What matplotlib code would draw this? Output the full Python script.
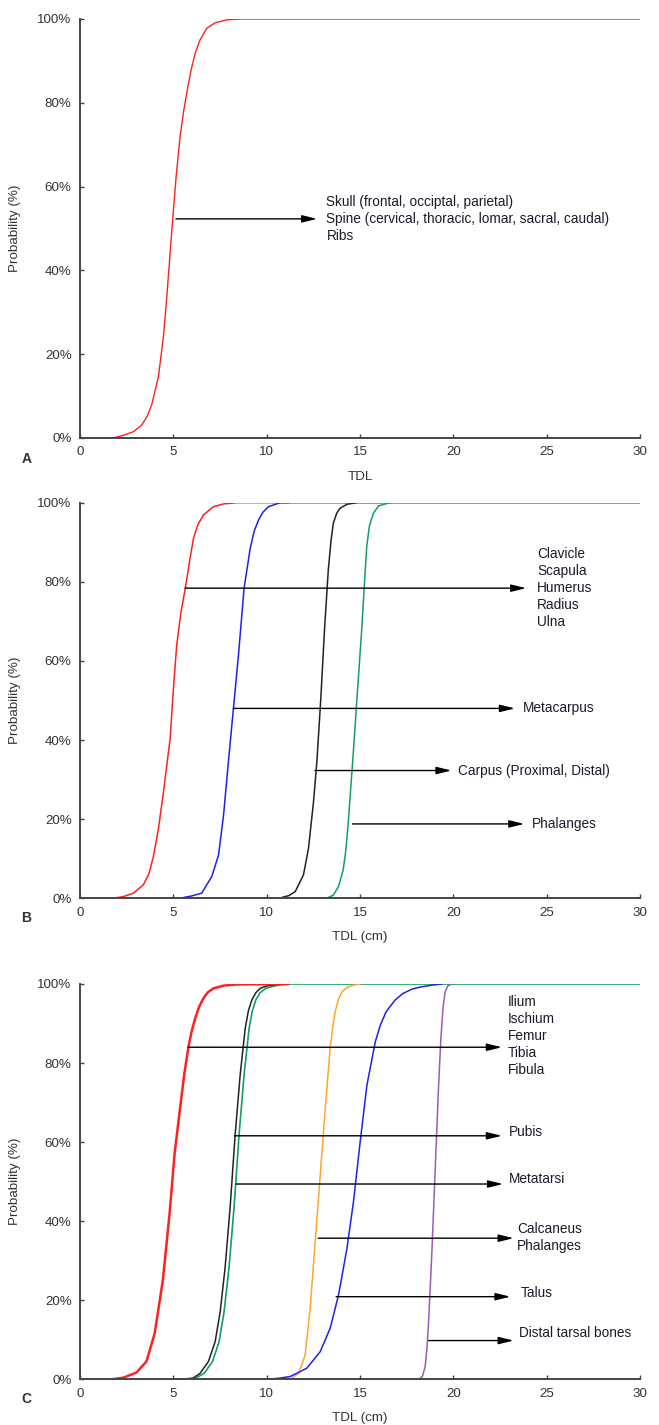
import matplotlib
matplotlib.use("Agg")
import matplotlib.pyplot as plt
from matplotlib.ticker import PercentFormatter

plt.rcParams['font.family'] = ['Liberation Sans', 'DejaVu Sans']

# ---------------- Panel A ----------------
a_red_x = [1.75, 2.3, 2.86, 3.31, 3.6, 3.84, 4.2, 4.47, 4.65, 4.92, 5.15, 5.36, 5.55, 5.75,
           5.95, 6.17, 6.43, 6.79, 7.24, 7.87, 8.6, 30]
a_red_y = [0, 0.6, 1.5, 3.1, 5.2, 7.9, 14.6, 24.2, 33.7, 49.6, 62.4, 71.9, 78.0, 83.1,
           87.8, 91.8, 95.0, 97.8, 99.1, 99.8, 100, 100]

# ---------------- Panel B ----------------
b_red_x = [1.75, 2.3, 2.86, 3.39, 3.7, 3.93, 4.2, 4.46, 4.83, 5.0, 5.18, 5.4, 5.67, 5.88,
           6.08, 6.32, 6.61, 7.15, 7.7, 8.4, 11.2]
b_red_y = [0, 0.4, 1.3, 3.4, 6.3, 10.5, 17.5, 26.5, 40.4, 52.7, 64.0, 72.0, 79.2, 85.5,
           91.0, 94.5, 96.9, 99.0, 99.7, 100, 100]
b_blue_x = [5.54, 5.9, 6.52, 7.06, 7.42, 7.69, 7.95, 8.22, 8.49, 8.79, 9.12, 9.33, 9.56,
            9.8, 10.1, 10.72, 14.8]
b_blue_y = [0.2, 0.5, 1.3, 5.5, 10.9, 21.0, 34.5, 48.0, 61.5, 78.4, 88.5, 92.8, 95.6,
            97.6, 99.0, 100, 100]
b_black_x = [10.81, 11.2, 11.53, 11.97, 12.24, 12.51, 12.69, 12.9, 13.1, 13.3, 13.45,
             13.57, 13.75, 13.93, 14.3, 14.82, 30]
b_black_y = [0.2, 0.7, 1.7, 5.9, 12.6, 24.4, 34.5, 50.5, 68.0, 82.9, 90.5,
             94.8, 97.3, 98.6, 99.6, 100, 100]
b_green_x = [13.21, 13.57, 13.85, 14.1, 14.25, 14.38, 14.64, 14.82, 15.09, 15.25, 15.36,
             15.5, 15.71, 16.0, 16.6]
b_green_y = [0, 0.8, 3.0, 7.2, 12.5, 19.8, 36.7, 49.3, 67.8, 80.5, 88.9,
             94.0, 97.3, 99.2, 100]

# ---------------- Panel C ----------------
c_red_x = [1.69, 2.31, 3.02, 3.56, 4.0, 4.44, 4.8, 5.07, 5.36, 5.58, 5.81, 5.98, 6.17,
           6.38, 6.61, 6.85, 7.15, 7.7, 8.4, 11.2]
c_red_y = [0, 0.4, 1.7, 4.5, 11.6, 25.1, 42.0, 57.2, 68.5, 77.0, 84.1, 88.0, 91.3,
           94.2, 96.4, 97.9, 98.9, 99.6, 99.9, 100]
c_black_x = [5.36, 6.06, 6.43, 6.88, 7.24, 7.51, 7.77, 8.04, 8.31, 8.58, 8.85, 9.02,
             9.21, 9.42, 9.65, 10.0, 10.55, 11.2]
c_black_y = [0, 0.3, 1.5, 4.5, 9.5, 17.1, 28.1, 43.3, 61.8, 77.0, 88.8, 93.2,
             96.0, 97.8, 98.9, 99.5, 99.9, 100]
c_green_x = [5.7, 6.2, 6.65, 7.1, 7.45, 7.72, 7.98, 8.25, 8.52, 8.79, 9.06, 9.23,
             9.42, 9.65, 9.95, 10.5, 11.08, 30]
c_green_y = [0, 0.3, 1.5, 4.5, 9.5, 17.1, 28.1, 43.3, 61.8, 77.0, 88.8, 93.2,
             96.0, 97.8, 98.9, 99.6, 100, 100]
c_orange_x = [11.26, 11.71, 12.06, 12.33, 12.6, 12.87, 13.14, 13.4, 13.55, 13.67, 13.85,
              14.03, 14.3, 14.65, 15.0]
c_orange_y = [0, 1.5, 6.1, 18.0, 34.8, 51.7, 68.6, 83.7, 89.5, 93.0, 96.2,
              98.0, 99.1, 99.7, 100]
c_blue_x = [10.01, 10.7, 11.26, 12.15, 12.87, 13.4, 13.85, 14.3, 14.65, 15.01, 15.37,
            15.82, 16.09, 16.4, 16.89, 17.3, 17.78, 18.3, 18.84, 19.38]
c_blue_y = [0, 0.3, 0.7, 2.8, 7.0, 12.9, 21.3, 33.1, 44.9, 60.1, 74.4,
            85.4, 89.6, 93.0, 96.0, 97.6, 98.7, 99.3, 99.7, 100]
c_purple_x = [18.17, 18.35, 18.49, 18.58, 18.67, 18.84, 19.02, 19.2, 19.33, 19.45,
              19.56, 19.7, 19.91]
c_purple_y = [0, 0.8, 3.2, 7.5, 14.2, 31.0, 52.1, 73.2, 86.0, 94.0,
              98.0, 99.5, 100]

# annotations: (arrow start x, arrow tip x, arrow y, text x, text y)
a_labels = ["Skull (frontal, occiptal, parietal)\nSpine (cervical, thoracic, lomar, sacral, caudal)\nRibs"]
a_arrows = [(5.14, 12.7, 52.3, 13.2, 52.3)]

b_labels = ["Clavicle\nScapula\nHumerus\nRadius\nUlna", "Metacarpus",
            "Carpus (Proximal, Distal)", "Phalanges"]
b_arrows = [(5.63, 23.9, 78.4, 24.5, 78.4),
            (8.21, 23.3, 48.0, 23.7, 48.0),
            (12.59, 19.9, 32.3, 20.25, 32.3),
            (14.6, 23.8, 18.8, 24.2, 18.8)]

c_labels = ["Ilium\nIschium\nFemur\nTibia\nFibula", "Pubis", "Metatarsi",
            "Calcaneus\nPhalanges", "Talus", "Distal tarsal bones"]
c_arrows = [(5.78, 22.6, 84.0, 22.9, 86.8),
            (8.27, 22.6, 61.6, 23.0, 62.6),
            (8.36, 22.66, 49.4, 22.97, 50.7),
            (12.76, 23.23, 35.7, 23.4, 35.9),
            (13.72, 23.06, 20.9, 23.6, 21.8),
            (18.67, 23.23, 9.8, 23.5, 11.8)]

fig = plt.figure(figsize=(6.59, 14.25), dpi=100)
L, W = 80 / 659, 560 / 659
axA = fig.add_axes([L, 1 - 438 / 1425, W, (438 - 19) / 1425])
axB = fig.add_axes([L, 1 - 898.3 / 1425, W, (898.3 - 502.7) / 1425])
axC = fig.add_axes([L, 1 - 1379.3 / 1425, W, (1379.3 - 984) / 1425])

RED = '#ff2020'
BLUE = '#2020ee'
BLACK = '#222222'
GREEN = '#12a060'
ORANGE = '#ffa533'
PURPLE = '#9a5ab8'
kw = dict(solid_joinstyle='round', solid_capstyle='round')

axA.plot(a_red_x, a_red_y, color=RED, lw=1.0, **kw)

axB.plot(b_red_x, b_red_y, color=RED, lw=1.1, **kw)
axB.plot(b_blue_x, b_blue_y, color=BLUE, lw=1.1, **kw)
axB.plot(b_black_x, b_black_y, color=BLACK, lw=1.1, **kw)
axB.plot(b_green_x, b_green_y, color=GREEN, lw=1.1, **kw)

axC.plot(c_green_x, c_green_y, color=GREEN, lw=1.2, **kw)
axC.plot(c_black_x, c_black_y, color=BLACK, lw=1.1, **kw)
axC.plot(c_red_x, c_red_y, color=RED, lw=1.8, **kw)
axC.plot(c_orange_x, c_orange_y, color=ORANGE, lw=1.1, **kw)
axC.plot(c_blue_x, c_blue_y, color=BLUE, lw=1.1, **kw)
axC.plot(c_purple_x, c_purple_y, color=PURPLE, lw=1.1, **kw)

TXT = '#1a1a2a'
def annotate(ax, labels, arrows):
    for lab, (x0, x1, y, tx, ty) in zip(labels, arrows):
        ax.annotate('', xy=(x1, y), xytext=(x0, y),
                    arrowprops=dict(arrowstyle='-|>,head_length=0.9,head_width=0.22',
                                    color='black', lw=1.0, shrinkA=0, shrinkB=0))
        ax.text(tx, ty, lab, ha='left', va='center', fontsize=9.8,
                color=TXT, linespacing=1.27)

annotate(axA, a_labels, a_arrows)
annotate(axB, b_labels, b_arrows)
annotate(axC, c_labels, c_arrows)

xlabels = ['TDL', 'TDL (cm)', 'TDL (cm)']
panel_letters = ['A', 'B', 'C']
for ax, xl, letter in zip([axA, axB, axC], xlabels, panel_letters):
    ax.set_xlim(0, 30)
    ax.set_ylim(0, 100)
    ax.set_xticks([0, 5, 10, 15, 20, 25, 30])
    ax.set_yticks([0, 20, 40, 60, 80, 100])
    ax.yaxis.set_major_formatter(PercentFormatter(decimals=0))
    for s in ['top', 'right']:
        ax.spines[s].set_visible(False)
    for s in ['left', 'bottom']:
        ax.spines[s].set_color('#444444')
        ax.spines[s].set_linewidth(1.4)
    ax.tick_params(axis='both', direction='in', length=3, width=1, color='#444444',
                   labelsize=9.6, labelcolor='#333333', pad=6)
    ax.set_xlabel(xl, fontsize=9.6, color='#333333', labelpad=9)
    ax.set_ylabel('Probability (%)', fontsize=9.6, color='#333333', labelpad=12)
    ax.text(-0.105, -0.05, letter, transform=ax.transAxes, fontsize=10,
            fontweight='bold', color='#333333', ha='left', va='center')

fig.savefig('out.png', dpi=100)
